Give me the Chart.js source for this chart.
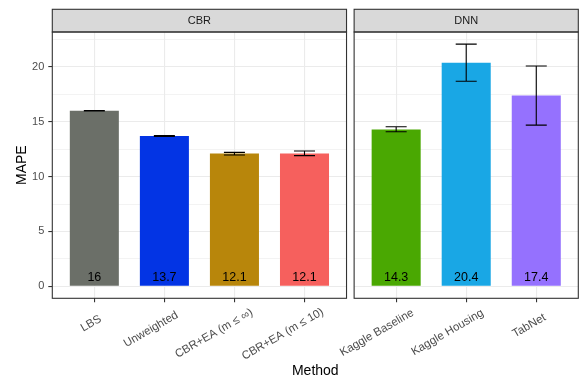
<!DOCTYPE html>
<html><head><meta charset="utf-8">
<script src="https://cdn.jsdelivr.net/npm/chart.js@4/dist/chart.umd.min.js"></script>
<style>html,body{margin:0;padding:0;background:#fff;}#wrap{position:relative;width:580px;height:378px;}</style>
</head><body><div id="wrap"><canvas id="c" width="580" height="378"></canvas></div>
<script>
// ---- data ----
const panels = ['CBR', 'DNN'];
const categories = ['LBS', 'Unweighted', 'CBR+EA (m \u2264 \u221E)', 'CBR+EA (m \u2264 10)', 'Kaggle Baseline', 'Kaggle Housing', 'TabNet'];
const panelOf = [0, 0, 0, 0, 1, 1, 1];
const mape = [16.0, 13.7, 12.1, 12.1, 14.3, 20.4, 17.4];
const errLow = [15.98, 13.67, 11.97, 11.91, 14.09, 18.7, 14.7];
const errHigh = [16.02, 13.74, 12.21, 12.33, 14.55, 22.09, 20.09];
const barColors = ['#6B6F68', '#0334E4', '#B8860B', '#F6605D', '#4AA802', '#19A7E5', '#9571FE'];
const yMajorTicks = [0, 5, 10, 15, 20];
const yMinorTicks = [2.5, 7.5, 12.5, 17.5, 22.5];

// ---- facet layout in data units (ggplot discrete expansion 0.6, panel gap) ----
const EXP = 0.6, GAP = 0.1085;
const panelCount = panels.map((p, k) => panelOf.filter(q => q === k).length);
const panelStart = [];
{ let a = 1 - EXP; panels.forEach((p, k) => { panelStart.push(a); a += panelCount[k] - 1 + 2 * EXP + GAP; }); }
const panelEnd = panels.map((p, k) => panelStart[k] + panelCount[k] - 1 + 2 * EXP);
const xPos = categories.map((c, i) => {
  const k = panelOf[i];
  const j = categories.slice(0, i).filter((_, m) => panelOf[m] === k).length;
  return panelStart[k] + EXP + j;
});
const yTop = Math.max(...errHigh);
const yMin = -0.05 * yTop, yMax = yTop * 1.05;

const FONT = 'Liberation Sans, Arial, sans-serif';
const fmt = v => String(Number(v.toFixed(1)));

const facetPlugin = {
  id: 'facet',
  beforeDatasetsDraw(chart) {
    const {ctx, chartArea: ca, scales: {x}} = chart;
    ctx.save(); ctx.fillStyle = '#ffffff';
    for (let k = 0; k < panels.length - 1; k++) {
      const x1 = x.getPixelForValue(panelEnd[k]), x2 = x.getPixelForValue(panelStart[k + 1]);
      ctx.fillRect(x1, ca.top - 1, x2 - x1, ca.bottom - ca.top + 2);
    }
    ctx.restore();
  },
  afterDatasetsDraw(chart) {
    const {ctx, scales: {x, y}} = chart;
    ctx.save();
    ctx.strokeStyle = '#000'; ctx.lineWidth = 1.1;
    categories.forEach((c, i) => {
      const cx = x.getPixelForValue(xPos[i]);
      const xl = x.getPixelForValue(xPos[i] - 0.15), xr = x.getPixelForValue(xPos[i] + 0.15);
      const yl = y.getPixelForValue(errLow[i]), yh = y.getPixelForValue(errHigh[i]);
      ctx.beginPath();
      ctx.moveTo(xl, yh); ctx.lineTo(xr, yh);
      ctx.moveTo(xl, yl); ctx.lineTo(xr, yl);
      ctx.moveTo(cx, yh); ctx.lineTo(cx, yl);
      ctx.stroke();
    });
    ctx.fillStyle = '#000'; ctx.font = '12.5px ' + FONT; ctx.textAlign = 'center'; ctx.textBaseline = 'alphabetic';
    categories.forEach((c, i) => {
      ctx.fillText(fmt(mape[i]), x.getPixelForValue(xPos[i]), y.getPixelForValue(0) - 5.3);
    });
    ctx.restore();
  },
  afterDraw(chart) {
    const {ctx, chartArea: ca, scales: {x}} = chart;
    ctx.save();
    panels.forEach((p, k) => {
      const x1 = x.getPixelForValue(panelStart[k]), x2 = x.getPixelForValue(panelEnd[k]);
      ctx.fillStyle = '#D9D9D9';
      ctx.fillRect(x1, 9.3, x2 - x1, ca.top - 9.3);
      ctx.strokeStyle = '#333333'; ctx.lineWidth = 1.1;
      ctx.strokeRect(x1, 9.3, x2 - x1, ca.top - 9.3);
      ctx.strokeRect(x1, ca.top, x2 - x1, ca.bottom - ca.top);
      ctx.fillStyle = '#1A1A1A'; ctx.font = '11px ' + FONT; ctx.textAlign = 'center'; ctx.textBaseline = 'middle';
      ctx.fillText(p, (x1 + x2) / 2, (9.3 + ca.top) / 2 + 0.5);
    });
    ctx.fillStyle = '#4D4D4D'; ctx.font = '11.5px ' + FONT; ctx.textAlign = 'left'; ctx.textBaseline = 'top';
    categories.forEach((c, i) => {
      const w = ctx.measureText(c).width;
      ctx.save();
      ctx.translate(x.getPixelForValue(xPos[i]) - 0.5, ca.bottom + 17);
      ctx.rotate(-Math.PI / 6);
      ctx.fillText(c, -0.8 * w, 0);
      ctx.restore();
    });
    ctx.restore();
  }
};

new Chart(document.getElementById('c'), {
  type: 'bar',
  data: {
    datasets: [{
      data: categories.map((c, i) => ({x: xPos[i], y: mape[i]})),
      backgroundColor: barColors,
      borderWidth: 0,
      barPercentage: 0.7,
      categoryPercentage: 1.0
    }]
  },
  options: {
    responsive: false, animation: false, devicePixelRatio: 1,
    layout: {padding: {top: 32, right: 1.7, bottom: 0, left: 0}},
    plugins: {legend: {display: false}, tooltip: {enabled: false}},
    scales: {
      x: {
        type: 'linear', offset: false, min: panelStart[0], max: panelEnd[panels.length - 1],
        afterBuildTicks: s => { s.ticks = xPos.map(v => ({value: v})); },
        ticks: {display: false},
        grid: {offset: false, color: '#EBEBEB', lineWidth: 1.1, drawTicks: true, tickLength: 4, tickColor: '#333333', tickWidth: 1.1},
        border: {display: false},
        title: {display: true, text: 'Method', color: '#000', font: {family: FONT, size: 14, lineHeight: 1}, padding: {top: 0, bottom: 0}},
        afterFit: s => { s.height = 378 - 298.3; }
      },
      y: {
        min: yMin, max: yMax,
        afterBuildTicks: s => { s.ticks = [...yMajorTicks, ...yMinorTicks].sort((a, b) => a - b).map(v => ({value: v})); },
        ticks: {callback: v => yMajorTicks.includes(v) ? String(v) : '', color: '#4D4D4D', font: {family: FONT, size: 11}, padding: 4},
        grid: {
          color: '#EBEBEB',
          lineWidth: c => yMajorTicks.includes(c.tick && c.tick.value) ? 1.1 : 0.6,
          tickLength: 4,
          tickColor: c => yMajorTicks.includes(c.tick && c.tick.value) ? '#333333' : 'rgba(0,0,0,0)',
          tickWidth: 1.1
        },
        border: {display: false},
        title: {display: true, text: 'MAPE', color: '#000', font: {family: FONT, size: 14, lineHeight: 1}, padding: {top: 14.8, bottom: 0}},
        afterFit: s => { s.width = 52.3; }
      }
    }
  },
  plugins: [facetPlugin]
});
</script></body></html>
